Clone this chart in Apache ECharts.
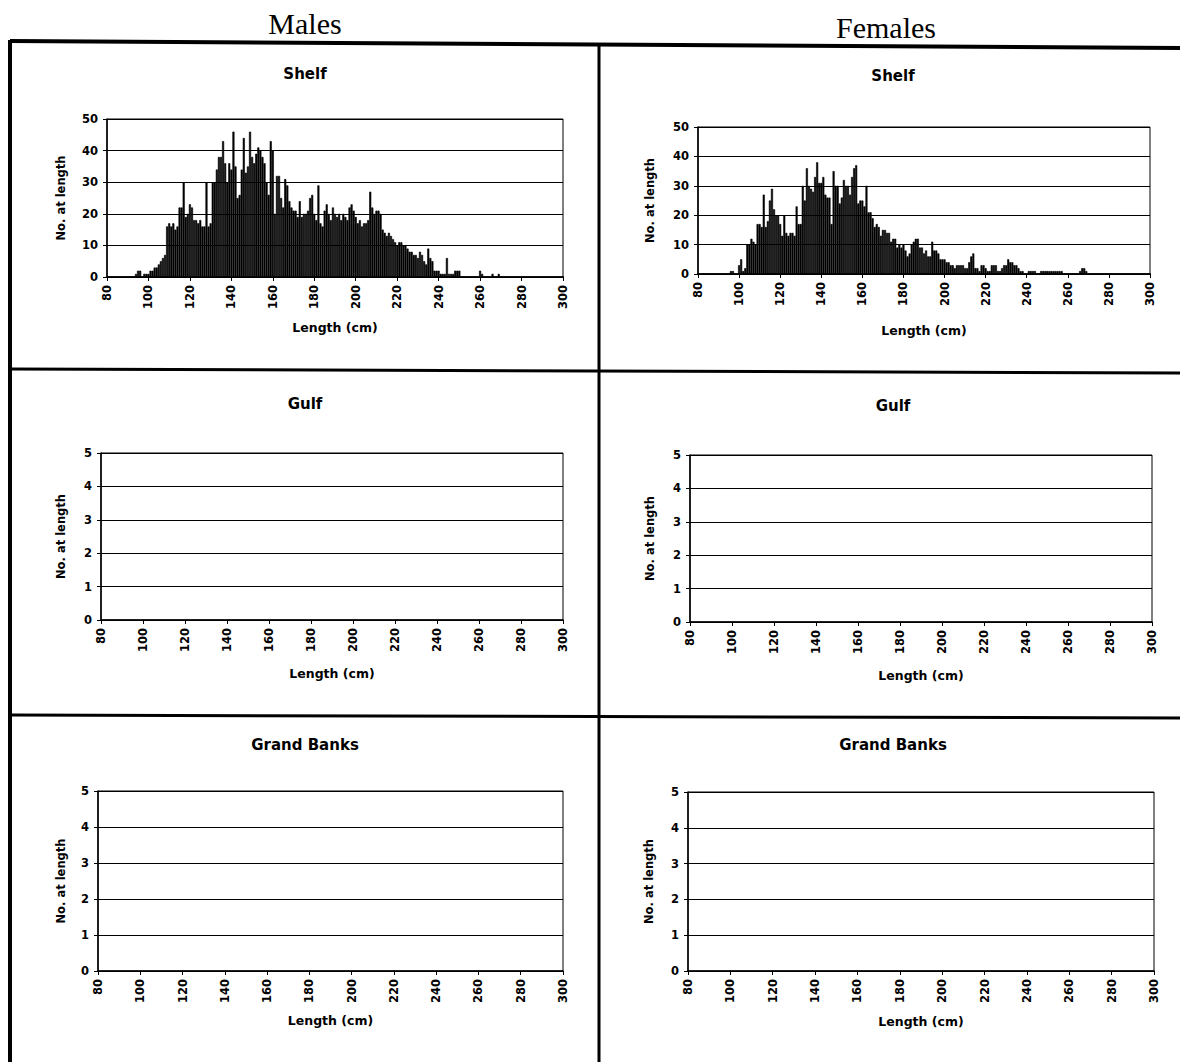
<!DOCTYPE html>
<html>
<head>
<meta charset="utf-8">
<script src="https://cdn.jsdelivr.net/npm/echarts@6/dist/echarts.min.js"></script>
<style>
html,body{margin:0;padding:0;background:#fff;}
#chart{width:1180px;height:1062px;}
</style>
</head>
<body>
<div id="chart"></div>
<script>
// ---- Data (1 cm length bins, 80..300 cm) ----
const lengthBins = [
  80,81,82,83,84,85,86,87,88,89,
  90,91,92,93,94,95,96,97,98,99,
  100,101,102,103,104,105,106,107,108,109,
  110,111,112,113,114,115,116,117,118,119,
  120,121,122,123,124,125,126,127,128,129,
  130,131,132,133,134,135,136,137,138,139,
  140,141,142,143,144,145,146,147,148,149,
  150,151,152,153,154,155,156,157,158,159,
  160,161,162,163,164,165,166,167,168,169,
  170,171,172,173,174,175,176,177,178,179,
  180,181,182,183,184,185,186,187,188,189,
  190,191,192,193,194,195,196,197,198,199,
  200,201,202,203,204,205,206,207,208,209,
  210,211,212,213,214,215,216,217,218,219,
  220,221,222,223,224,225,226,227,228,229,
  230,231,232,233,234,235,236,237,238,239,
  240,241,242,243,244,245,246,247,248,249,
  250,251,252,253,254,255,256,257,258,259,
  260,261,262,263,264,265,266,267,268,269,
  270,271,272,273,274,275,276,277,278,279,
  280,281,282,283,284,285,286,287,288,289,
  290,291,292,293,294,295,296,297,298,299,
  300
];

const malesShelf = [
  0,0,0,0,0,0,0,0,0,0,
  0,0,0,0,1,2,2,0,1,1,
  1,2,2,3,3,4,5,6,7,16,
  17,16,17,15,16,22,22,30,19,20,
  23,22,18,18,17,18,16,16,30,16,
  17,30,30,34,38,38,43,36,30,36,
  34,46,35,25,26,34,44,33,35,46,
  38,36,39,41,40,38,36,30,26,43,
  40,20,32,32,25,22,31,29,24,22,
  21,21,19,24,19,20,20,21,25,26,
  20,18,29,17,16,21,23,20,18,22,
  20,19,20,18,20,19,18,22,23,21,
  19,17,18,16,17,17,18,27,22,20,
  21,21,20,15,14,13,14,13,12,11,
  10,11,11,10,10,9,8,8,7,7,
  6,8,7,5,4,9,6,5,2,2,
  2,1,1,1,6,1,1,1,2,2,
  2,0,0,0,0,0,0,0,0,0,
  2,1,0,0,0,0,1,0,0,1,
  0,0,0,0,0,0,0,0,0,0,
  0,0,0,0,0,0,0,0,0,0,
  0,0,0,0,0,0,0,0,0,0,
  0
];

const femalesShelf = [
  0,0,0,0,0,0,0,0,0,0,
  0,0,0,0,0,0,1,1,0,0,
  3,5,1,2,10,10,12,11,10,17,
  17,16,27,16,18,25,29,22,20,20,
  17,13,20,14,13,14,14,13,23,17,
  17,30,25,36,30,29,28,33,38,31,
  31,33,27,26,26,17,35,30,30,24,
  26,32,30,30,27,33,36,37,24,25,
  25,23,30,21,21,19,16,17,16,13,
  15,15,14,14,11,12,12,9,10,9,
  10,8,6,7,10,11,12,12,9,9,
  7,8,6,6,11,8,8,7,5,5,
  5,4,4,3,3,2,3,3,3,3,
  2,2,4,6,7,2,2,1,3,3,
  2,1,1,3,3,3,1,1,2,3,
  3,5,4,4,3,3,2,1,1,0,
  0,1,1,1,1,0,0,1,1,1,
  1,1,1,1,1,1,1,1,0,0,
  0,0,0,0,0,0,1,2,2,1,
  0,0,0,0,0,0,0,0,0,0,
  0,0,0,0,0,0,0,0,0,0,
  0,0,0,0,0,0,0,0,0,0,
  0
];

// No fish recorded in these areas
const malesGulf = [];
const femalesGulf = [];
const malesGrandBanks = [];
const femalesGrandBanks = [];

// Tick labels
const xTickLabels = [80,100,120,140,160,180,200,220,240,260,280,300];
const shelfYTicks = [0,10,20,30,40,50];
const areaYTicks = [0,1,2,3,4,5];

const sexTitles = ['Males', 'Females'];
const areaTitles = ['Shelf', 'Gulf', 'Grand Banks'];
const xAxisTitle = 'Length (cm)';
const yAxisTitle = 'No. at length';

// ---- Layout ----
const panels = [
  {title: areaTitles[0], tx: 305, ty: 74,  grid: {left:107, top:119, width:456, height:158}, counts: malesShelf,   yTicks: shelfYTicks, yGap: 40, xGap: 44},
  {title: areaTitles[0], tx: 893, ty: 76,  grid: {left:698, top:127, width:452, height:147}, counts: femalesShelf, yTicks: shelfYTicks, yGap: 42, xGap: 50},
  {title: areaTitles[1], tx: 305, ty: 404, grid: {left:101, top:453, width:462, height:167}, counts: malesGulf,    yTicks: areaYTicks,  yGap: 34, xGap: 47},
  {title: areaTitles[1], tx: 893, ty: 406, grid: {left:690, top:455, width:462, height:167}, counts: femalesGulf,  yTicks: areaYTicks,  yGap: 34, xGap: 47},
  {title: areaTitles[2], tx: 305, ty: 745, grid: {left:98,  top:791, width:465, height:180}, counts: malesGrandBanks,   yTicks: areaYTicks, yGap: 31, xGap: 43},
  {title: areaTitles[2], tx: 893, ty: 745, grid: {left:688, top:792, width:466, height:179}, counts: femalesGrandBanks, yTicks: areaYTicks, yGap: 33, xGap: 44}
];

const FONT = '"DejaVu Sans", "Liberation Sans", Arial, sans-serif';

const grids = [], xAxes = [], yAxes = [], series = [], graphics = [];

panels.forEach((p, i) => {
  grids.push(Object.assign({show: true, borderColor: '#000', borderWidth: 1, backgroundColor: 'transparent', containLabel: false}, p.grid));
  xAxes.push({
    type: 'value', gridIndex: i,
    min: xTickLabels[0], max: xTickLabels[xTickLabels.length - 1],
    interval: xTickLabels[1] - xTickLabels[0],
    name: xAxisTitle, nameLocation: 'middle', nameGap: p.xGap,
    nameTextStyle: {fontFamily: FONT, fontWeight: 'bold', fontSize: 12.5, color: '#000'},
    axisLine: {show: true, onZero: false, lineStyle: {color: '#000', width: 1.5}},
    axisTick: {show: true, length: 4, lineStyle: {color: '#000', width: 1}},
    axisLabel: {rotate: 90, margin: 8, fontFamily: FONT, fontWeight: 'bold', fontSize: 11.5, color: '#000'},
    splitLine: {show: false}
  });
  yAxes.push({
    type: 'value', gridIndex: i,
    min: p.yTicks[0], max: p.yTicks[p.yTicks.length - 1],
    interval: p.yTicks[1] - p.yTicks[0],
    name: yAxisTitle, nameLocation: 'middle', nameRotate: 90, nameGap: p.yGap,
    nameTextStyle: {fontFamily: FONT, fontWeight: 'bold', fontSize: 11.5, color: '#000'},
    axisLine: {show: true, lineStyle: {color: '#000', width: 1.5}},
    axisTick: {show: true, length: 4, lineStyle: {color: '#000', width: 1}},
    axisLabel: {margin: 9, fontFamily: FONT, fontWeight: 'bold', fontSize: 11.5, color: '#000'},
    splitLine: {show: true, lineStyle: {color: '#000', width: 1}}
  });
  series.push({
    type: 'bar', xAxisIndex: i, yAxisIndex: i,
    barCategoryGap: '0%',
    itemStyle: {color: '#000', borderColor: '#000', borderWidth: 0.6},
    silent: true,
    data: p.counts.map((c, k) => [lengthBins[k], c])
  });
  graphics.push({
    type: 'text', x: p.tx, y: p.ty,
    style: {text: p.title, fill: '#000', font: 'bold 15px ' + FONT,
            textAlign: 'center', textVerticalAlign: 'middle', align: 'center', verticalAlign: 'middle'}
  });
});

// Column headings
graphics.push({type: 'text', x: 305, y: 23,
  style: {text: sexTitles[0], fill: '#000', font: '30px "Liberation Serif", "Times New Roman", serif',
          textAlign: 'center', textVerticalAlign: 'middle', align: 'center', verticalAlign: 'middle'}});
graphics.push({type: 'text', x: 886, y: 27,
  style: {text: sexTitles[1], fill: '#000', font: '30px "Liberation Serif", "Times New Roman", serif',
          textAlign: 'center', textVerticalAlign: 'middle', align: 'center', verticalAlign: 'middle'}});

// Frame lines of the page layout
const frame = [
  {x1: 10, y1: 41, x2: 1180, y2: 48, w: 4},
  {x1: 10, y1: 40, x2: 10, y2: 1062, w: 4},
  {x1: 599, y1: 44, x2: 599, y2: 1062, w: 3},
  {x1: 10, y1: 369, x2: 1180, y2: 373, w: 3},
  {x1: 10, y1: 715, x2: 1180, y2: 718, w: 3}
];
frame.forEach(f => graphics.push({type: 'line', shape: {x1: f.x1, y1: f.y1, x2: f.x2, y2: f.y2},
  style: {stroke: '#000', lineWidth: f.w}, silent: true}));

const chart = echarts.init(document.getElementById('chart'), null, {renderer: 'svg'});
chart.setOption({
  animation: false,
  backgroundColor: '#fff',
  grid: grids,
  xAxis: xAxes,
  yAxis: yAxes,
  series: series,
  graphic: graphics
});
</script>
</body>
</html>
